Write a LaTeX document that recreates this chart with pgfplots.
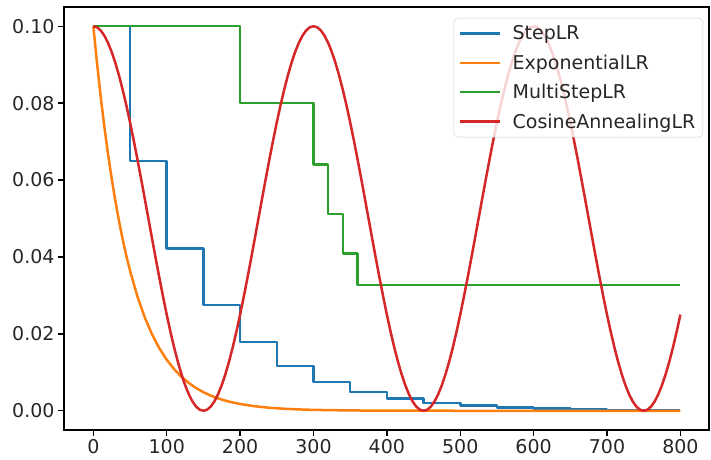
\documentclass[border=0pt]{standalone}
\usepackage{fontspec}
\setmainfont{DejaVu Sans}
\usepackage{pgfplots}
\pgfplotsset{compat=1.18}
\definecolor{tabblue}{HTML}{1F77B4}
\definecolor{taborange}{HTML}{FF7F0E}
\definecolor{tabgreen}{HTML}{2CA02C}
\definecolor{tabred}{HTML}{D62728}

\begin{document}
\begin{tikzpicture}
\begin{axis}[
  scale only axis, width=645bp, height=423bp,
  xmin=-40, xmax=839, ymin=-0.005, ymax=0.105,
  xtick={0,100,200,300,400,500,600,700,800},
  ytick={0,0.02,0.04,0.06,0.08,0.1},
  scaled y ticks=false,
  yticklabel style={/pgf/number format/.cd,fixed,fixed zerofill,precision=2},
  /pgf/number format/assume math mode=true,
  xtick pos=left, ytick pos=left,
  tick align=outside, major tick length=6bp,
  axis line style={line width=1.3bp},
  every tick/.style={black,line width=1.3bp},
  tick label style={font=\fontsize{19bp}{22bp}\selectfont, text=black!85},
  legend style={at={(0.9907,0.974)}, anchor=north east,
    font=\fontsize{19bp}{22bp}\selectfont,
    draw=black!20, rounded corners=4bp, fill=white, fill opacity=0.8,
    text opacity=1, draw opacity=1, inner xsep=5bp, inner ysep=5bp,
    row sep=8.5bp, column sep=9bp,
    nodes={inner sep=2.5bp, text=black!85}},
  legend cell align=left,
  legend image code/.code={\draw[#1, line width=2.4bp] (0bp,0bp) -- (40bp,0bp);},
  lr/.style={line width=2.5bp, line join=round},
]
\addplot[tabblue, lr, const plot] coordinates {
  (0,0.1) (50,0.065) (100,0.04225) (150,0.0274625) (200,0.0178506)
  (250,0.0116029) (300,0.0075419) (350,0.0049022) (400,0.0031865)
  (450,0.0020712) (500,0.0013463) (550,0.0008751) (600,0.0005688)
  (650,0.0003697) (700,0.0002403) (750,0.0001562) (800,0.0001562)
};
\addlegendentry{StepLR}
\addplot[taborange, lr] coordinates {
  (0,0.1) (5,0.090392) (10,0.081707) (15,0.073857) (20,0.066761)
  (25,0.060346) (30,0.054548) (35,0.049307) (40,0.044570) (45,0.040288)
  (50,0.036417) (60,0.029755) (70,0.024312) (80,0.019865) (90,0.016231)
  (100,0.013262) (110,0.010836) (120,0.008854) (130,0.007234) (140,0.005911)
  (150,0.004830) (160,0.003946) (170,0.003224) (180,0.002635) (190,0.002153)
  (200,0.001759) (220,0.001174) (240,0.000784) (260,0.000523) (280,0.000349)
  (300,0.000233) (350,0.000085) (400,0.000031) (500,0.000004) (600,0.000001)
  (800,0)
};
\addlegendentry{ExponentialLR}
\addplot[tabgreen, lr, const plot] coordinates {
  (0,0.1) (200,0.08) (300,0.064) (320,0.0512) (340,0.04096) (360,0.032768)
  (800,0.032768)
};
\addlegendentry{MultiStepLR}
\addplot[tabred, lr] coordinates {
  (0,0.1)(5,0.099726)(10,0.098907)(15,0.097553)(20,0.095677)(25,0.093301)
  (30,0.090451)(35,0.087157)(40,0.083457)(45,0.079389)(50,0.075)(55,0.070337)
  (60,0.065451)(65,0.060396)(70,0.055226)(75,0.05)(80,0.044774)(85,0.039604)
  (90,0.034549)(95,0.029663)(100,0.025)(105,0.020611)(110,0.016543)
  (115,0.012843)(120,0.009549)(125,0.006699)(130,0.004323)(135,0.002447)
  (140,0.001093)(145,0.000274)(150,0)
  (155,0.000274)(160,0.001093)(165,0.002447)(170,0.004323)(175,0.006699)
  (180,0.009549)(185,0.012843)(190,0.016543)(195,0.020611)(200,0.025)
  (205,0.029663)(210,0.034549)(215,0.039604)(220,0.044774)(225,0.05)
  (230,0.055226)(235,0.060396)(240,0.065451)(245,0.070337)(250,0.075)
  (255,0.079389)(260,0.083457)(265,0.087157)(270,0.090451)(275,0.093301)
  (280,0.095677)(285,0.097553)(290,0.098907)(295,0.099726)(300,0.1)
  (305,0.099726)(310,0.098907)(315,0.097553)(320,0.095677)(325,0.093301)
  (330,0.090451)(335,0.087157)(340,0.083457)(345,0.079389)(350,0.075)
  (355,0.070337)(360,0.065451)(365,0.060396)(370,0.055226)(375,0.05)
  (380,0.044774)(385,0.039604)(390,0.034549)(395,0.029663)(400,0.025)
  (405,0.020611)(410,0.016543)(415,0.012843)(420,0.009549)(425,0.006699)
  (430,0.004323)(435,0.002447)(440,0.001093)(445,0.000274)(450,0)
  (455,0.000274)(460,0.001093)(465,0.002447)(470,0.004323)(475,0.006699)
  (480,0.009549)(485,0.012843)(490,0.016543)(495,0.020611)(500,0.025)
  (505,0.029663)(510,0.034549)(515,0.039604)(520,0.044774)(525,0.05)
  (530,0.055226)(535,0.060396)(540,0.065451)(545,0.070337)(550,0.075)
  (555,0.079389)(560,0.083457)(565,0.087157)(570,0.090451)(575,0.093301)
  (580,0.095677)(585,0.097553)(590,0.098907)(595,0.099726)(600,0.1)
  (605,0.099726)(610,0.098907)(615,0.097553)(620,0.095677)(625,0.093301)
  (630,0.090451)(635,0.087157)(640,0.083457)(645,0.079389)(650,0.075)
  (655,0.070337)(660,0.065451)(665,0.060396)(670,0.055226)(675,0.05)
  (680,0.044774)(685,0.039604)(690,0.034549)(695,0.029663)(700,0.025)
  (705,0.020611)(710,0.016543)(715,0.012843)(720,0.009549)(725,0.006699)
  (730,0.004323)(735,0.002447)(740,0.001093)(745,0.000274)(750,0)
  (755,0.000274)(760,0.001093)(765,0.002447)(770,0.004323)(775,0.006699)
  (780,0.009549)(785,0.012843)(790,0.016543)(795,0.020611)(800,0.025)
};
\addlegendentry{CosineAnnealingLR}
\end{axis}
\pgfresetboundingbox
\useasboundingbox ([xshift=-64bp,yshift=-30bp]current axis.south west)
  rectangle ([xshift=2bp,yshift=7bp]current axis.north east);
\end{tikzpicture}
\end{document}
